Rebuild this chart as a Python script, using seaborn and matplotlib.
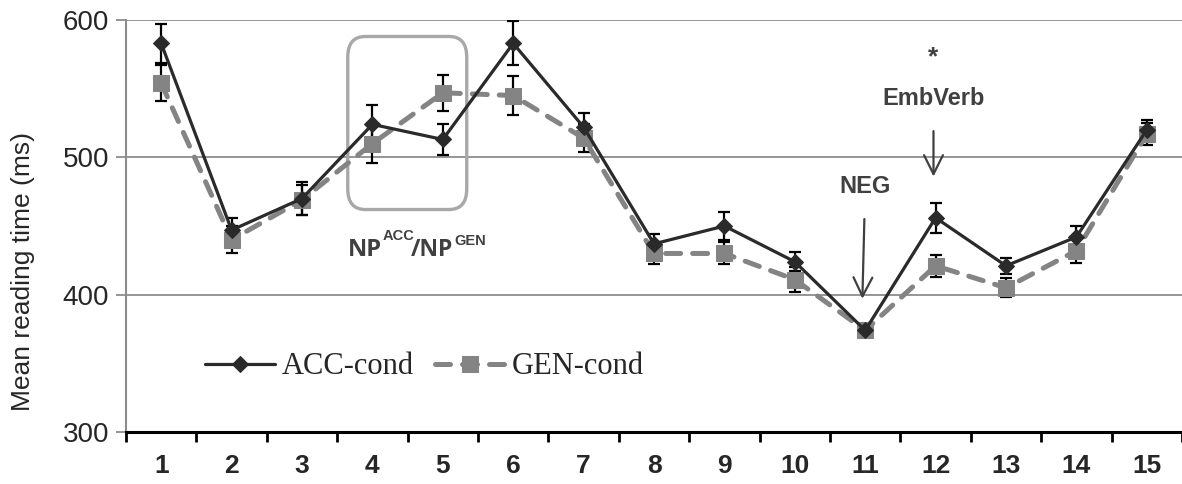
import matplotlib
matplotlib.use("Agg")
import matplotlib.pyplot as plt
import seaborn as sns
import pandas as pd
import numpy as np
from matplotlib import font_manager
from matplotlib.patches import FancyBboxPatch

positions = list(range(1, 16))
tick_labels = [str(i) for i in positions]
acc_mean = [583, 447, 470, 524, 513, 583, 522, 437, 450, 424, 374, 456, 421, 442, 520]
acc_err = [14, 9, 12, 14, 11, 16, 10, 7, 10, 7, 5, 11, 6, 8, 7]
gen_mean = [554, 440, 469, 510, 547, 545, 514, 430, 430, 411, 374, 421, 405, 432, 517]
gen_err = [13, 10, 11, 14, 13, 14, 10, 8, 8, 9, 5, 8, 7, 9, 8]
series_names = ["ACC-cond", "GEN-cond"]

sns.set_theme(style="white")
names = {f.name for f in font_manager.fontManager.ttflist}
narrow = "Liberation Sans Narrow" if "Liberation Sans Narrow" in names else "Liberation Sans"
plt.rcParams["font.family"] = ["Liberation Sans", "DejaVu Sans"]

df = pd.DataFrame({
    "pos": positions * 2,
    "rt": acc_mean + gen_mean,
    "err": acc_err + gen_err,
    "cond": [series_names[0]] * 15 + [series_names[1]] * 15,
})

fig = plt.figure(figsize=(11.82, 4.84), dpi=100)
ax = fig.add_axes([126 / 1182, 1 - 432 / 484, 1 - 126 / 1182, (432 - 20) / 484])

acc_col = "#2a2a2a"
gen_col = "#848484"

sub_acc = df[df.cond == series_names[0]]
sub_gen = df[df.cond == series_names[1]]

ax.errorbar(sub_acc.pos, sub_acc.rt, yerr=sub_acc.err, fmt="none", ecolor="black",
            elinewidth=1.6, capsize=4.5, capthick=1.6, zorder=3)
ax.errorbar(sub_gen.pos, sub_gen.rt, yerr=sub_gen.err, fmt="none", ecolor="black",
            elinewidth=1.6, capsize=4.5, capthick=1.6, zorder=3)

sns.lineplot(data=sub_acc, x="pos", y="rt", ax=ax, color=acc_col, lw=2.3,
             marker="D", markersize=8, markeredgecolor=acc_col, markerfacecolor=acc_col,
             label=series_names[0], zorder=5)
sns.lineplot(data=sub_gen, x="pos", y="rt", ax=ax, color=gen_col, lw=3.6,
             marker="s", markersize=11, markeredgecolor=gen_col, markerfacecolor=gen_col,
             label=series_names[1], zorder=4, dashes=(3.0, 2.4), dash_capstyle="round")

ax.set_xlim(0.5, 15.5)
ax.set_ylim(300, 600)
ax.set_yticks([300, 400, 500, 600])
ax.set_yticklabels(["300", "400", "500", "600"], fontfamily=narrow, fontsize=20)
ax.yaxis.grid(True, color="#8c8c8c", lw=1.3)
ax.set_axisbelow(True)

ax.set_xticks(positions)
ax.set_xticklabels(tick_labels, fontfamily=narrow, fontsize=19, fontweight="bold")
ax.set_xticks(np.arange(0.5, 15.6, 1.0), minor=True)
ax.tick_params(axis="x", which="major", length=0, pad=16)
ax.tick_params(axis="x", which="minor", length=7.5, width=2, color="black", direction="out", bottom=True)
ax.tick_params(axis="y", which="major", length=7, width=1.3, color="#8c8c8c", direction="out", left=True, pad=5)

for s in ["top", "right"]:
    ax.spines[s].set_visible(False)
ax.spines["left"].set_color("#8c8c8c")
ax.spines["left"].set_linewidth(1.5)
ax.spines["bottom"].set_color("black")
ax.spines["bottom"].set_linewidth(2.2)
ax.spines["bottom"].set_zorder(6)

ax.set_xlabel("")
ax.set_ylabel("Mean reading time (ms)", fontsize=19)
ax.yaxis.set_label_coords(-0.086, 0.39)

leg = ax.legend(loc="center left", bbox_to_anchor=(0.075, 0.158), ncol=2, frameon=False,
                prop={"family": ["Liberation Serif", "DejaVu Serif"], "size": 22},
                handlelength=2.3, columnspacing=0.7, handletextpad=0.2,
                borderpad=0, borderaxespad=0)

# highlight box around positions 4-5
box = FancyBboxPatch((3.65, 462), 1.69, 126, boxstyle="round,pad=0,rounding_size=0.25",
                     mutation_aspect=60, fill=False, ec="#a8a8a8", lw=2.4, zorder=2)
ax.add_patch(box)

txtc = "#404040"
big = ["Open Sans", "DejaVu Sans"]
ax.text(3.65, 428.5, "NP", fontsize=17, fontweight="bold", color=txtc, ha="left", va="baseline",
        fontfamily=big)
ax.text(4.15, 440, "ACC", fontsize=10.5, fontweight="bold", color=txtc, ha="left", va="baseline",
        fontfamily=[narrow])
ax.text(4.54, 428.5, "/NP", fontsize=16.5, fontweight="bold", color=txtc, ha="left", va="baseline",
        fontfamily=big)
ax.text(5.16, 436, "GEN", fontsize=10.5, fontweight="bold", color=txtc, ha="left", va="baseline",
        fontfamily=[narrow])

ax.annotate("NEG", xy=(10.96, 397), xytext=(11.0, 479), fontsize=17, fontweight="bold",
            color=txtc, ha="center", va="center", fontfamily=narrow,
            arrowprops=dict(arrowstyle="->,head_length=0.8,head_width=0.4", color=txtc, lw=1.6,
                            shrinkA=13, shrinkB=0))
ax.annotate("EmbVerb", xy=(11.97, 486), xytext=(11.97, 543), fontsize=17, fontweight="bold",
            color=txtc, ha="center", va="center", fontfamily=narrow,
            arrowprops=dict(arrowstyle="->,head_length=0.8,head_width=0.4", color=txtc, lw=1.6,
                            shrinkA=13, shrinkB=0))
ax.text(11.97, 573, "*", fontsize=19, fontweight="bold", color=txtc, ha="center", va="center",
        fontfamily=narrow)

fig.savefig("out.png", dpi=100)
